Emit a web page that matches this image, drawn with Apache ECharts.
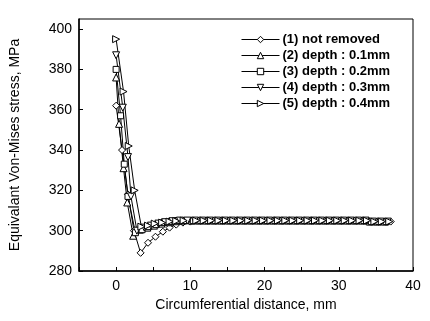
<!DOCTYPE html>
<html><head><meta charset="utf-8">
<script src="https://cdn.jsdelivr.net/npm/echarts@6/dist/echarts.min.js"></script>
<style>html,body{margin:0;padding:0;background:#fff}#c{width:430px;height:321px}</style>
</head><body><div id="c"></div>
<script>
const seriesNames = ['(1) not removed','(2) depth : 0.1mm','(3) depth : 0.2mm','(4) depth : 0.3mm','(5) depth : 0.4mm'];
const xTicks = [0, 10, 20, 30, 40];
const yTicks = [280, 300, 320, 340, 360, 380, 400];

const s1x = [0,0.8,1.6,2.4,3.3,4.3,5.3,6.3,7.2,8.1,9.0,10,11,12,13,14,15,16,17,18,19,20,21,22,23,24,25,26,27,28,29,30,31,32,33,34,35,36,37];
const s1y = [362,340,318,300,289,294,297,299.5,301.5,303,304,304.5,305,305,305,305,305,305,305,305,305,305,305,305,305,305,305,305,305,305,305,305,305,305,305,305,304.5,304.5,304.5];

const s2x = [0,0.4,1.0,1.5,2.3,3.2,4.2,5.1,6.1,7.1,8.0,9.0,10.2,11.2,12.2,13.2,14.2,15.2,16.2,17.2,18.2,19.2,20.2,21.2,22.2,23.2,24.2,25.2,26.2,27.2,28.2,29.2,30.2,31.2,32.2,33.2,34.2,35.2,36.2];
const s2y = [376,353,331,314,297.5,300.5,301.5,302.5,303.5,304.2,304.7,305,305,305,305,305,305,305,305,305,305,305,305,305,305,305,305,305,305,305,305,305,305,305,305,305,304.5,304.5,304.5];

const s3x = [0,0.6,1.1,1.6,2.6,3.5,4.4,5.4,6.4,7.4,8.3,9.3,10.4,11.4,12.4,13.4,14.4,15.4,16.4,17.4,18.4,19.4,20.4,21.4,22.4,23.4,24.4,25.4,26.4,27.4,28.4,29.4,30.4,31.4,32.4,33.4,34.4,35.4,36.4];
const s3y = [380,357,333,317,299,300.5,302,303,304,304.5,305,305,305,305,305,305,305,305,305,305,305,305,305,305,305,305,305,305,305,305,305,305,305,305,305,305,304.5,304.5,304.5];

const s4x = [0,0.9,1.6,2.0,2.8,3.8,4.7,5.7,6.6,7.6,8.6,9.6,10.6,11.6,12.6,13.6,14.6,15.6,16.6,17.6,18.6,19.6,20.6,21.6,22.6,23.6,24.6,25.6,26.6,27.6,28.6,29.6,30.6,31.6,32.6,33.6,34.6,35.6,36.6];
const s4y = [387,361,336.5,317,300,301.5,302.5,303.5,304.2,304.7,305,305,305,305,305,305,305,305,305,305,305,305,305,305,305,305,305,305,305,305,305,305,305,305,305,305,304.5,304.5,304.5];

const s5x = [0,1.0,1.7,2.5,3.4,4.3,5.2,6.2,7.2,8.1,9.1,10.8,11.8,12.8,13.8,14.8,15.8,16.8,17.8,18.8,19.8,20.8,21.8,22.8,23.8,24.8,25.8,26.8,27.8,28.8,29.8,30.8,31.8,32.8,33.8,34.8,35.8,36.8];
const s5y = [395,369,342,320,302,302.5,303.5,304,304.5,304.8,305,305,305,305,305,305,305,305,305,305,305,305,305,305,305,305,305,305,305,305,305,305,305,305,305,304.5,304.5,304.5];

const xs = [s1x, s2x, s3x, s4x, s5x];
const ys = [s1y, s2y, s3y, s4y, s5y];
const symbols = ['diamond', 'triangle', 'rect', 'path://M0,0 L10,0 L5,9 Z', 'path://M0,0 L9,5 L0,10 Z'];
const sizes = [7, 7, 6, 7, 7];

const chart = echarts.init(document.getElementById('c'), null, {renderer: 'canvas'});
const font = '"Liberation Sans", Arial, sans-serif';
const series = seriesNames.map((n, i) => ({
  name: n,
  type: 'line',
  data: xs[i].map((x, j) => [x, ys[i][j]]),
  symbol: symbols[i],
  symbolSize: sizes[i],
  showAllSymbol: true,
  lineStyle: {color: '#000', width: 1},
  itemStyle: {color: '#fff', borderColor: '#000', borderWidth: 1},
  animation: false
}));

chart.setOption({
  backgroundColor: '#fff',
  animation: false,
  grid: {left: 77, right: 17, top: 19, bottom: 50, show: true, borderColor: '#000', borderWidth: 1},
  legend: {
    data: seriesNames,
    orient: 'vertical',
    left: 236,
    top: 28,
    itemWidth: 38,
    itemHeight: 8,
    itemGap: 3,
    itemStyle: {color: '#fff', borderColor: '#000', borderWidth: 1},
    lineStyle: {color: '#000', width: 1},
    textStyle: {fontFamily: font, fontWeight: 'bold', fontSize: 13, color: '#000', lineHeight: 12, padding: [0, 0, 0, -2]}
  },
  xAxis: {
    type: 'value', min: -5, max: 40, interval: 5,
    name: 'Circumferential distance, mm', nameLocation: 'middle', nameGap: 26,
    nameTextStyle: {fontFamily: font, fontSize: 14, color: '#000'},
    axisLine: {onZero: false, lineStyle: {color: '#000', width: 1.5}},
    axisTick: {inside: true, length: 4, lineStyle: {color: '#000'}},
    axisLabel: {fontFamily: font, fontSize: 14, color: '#000', margin: 8,
      formatter: v => (xTicks.indexOf(v) >= 0 ? String(v) : '')},
    splitLine: {show: false}
  },
  yAxis: {
    type: 'value', min: 280, max: 405, interval: 20,
    name: 'Equivalant Von-Mises stress, MPa', nameLocation: 'middle', nameGap: 57,
    nameTextStyle: {fontFamily: font, fontSize: 14, color: '#000'},
    axisLine: {onZero: false, lineStyle: {color: '#000', width: 1.5}},
    axisTick: {inside: true, length: 4, lineStyle: {color: '#000'}},
    axisLabel: {fontFamily: font, fontSize: 14, color: '#000', margin: 7, showMaxLabel: false,
      formatter: v => (yTicks.indexOf(v) >= 0 ? String(v) : '')},
    splitLine: {show: false}
  },
  series: series
});
</script>
</body></html>
